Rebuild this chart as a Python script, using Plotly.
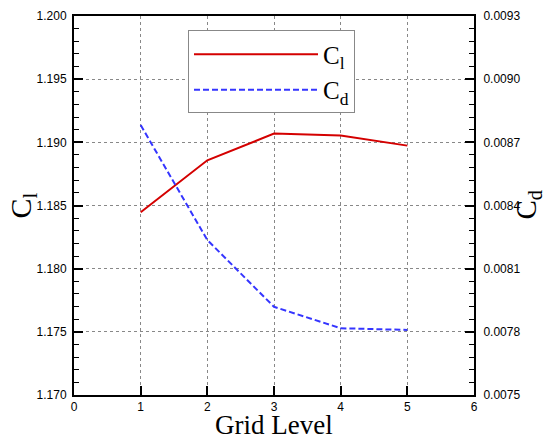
import plotly.graph_objects as go

grid_level = [1, 2, 3, 4, 5]
cl_values = [1.18447, 1.18858, 1.19069, 1.19055, 1.18974]
cd_values = [0.008782, 0.008236, 0.007919, 0.007817, 0.007809]

fig = go.Figure()
fig.add_trace(go.Scatter(x=grid_level, y=cl_values, mode="lines", name="C<sub>l</sub>",
                         line=dict(color="#d40000", width=2)))
fig.add_trace(go.Scatter(x=grid_level, y=cd_values, mode="lines", name="C<sub>d</sub>",
                         yaxis="y2", line=dict(color="#3535ff", width=2, dash="6px,3px")))

tickfont = dict(family="Liberation Sans, Arial", size=12, color="black")
titlefont = dict(family="Liberation Serif, Times New Roman", size=30, color="black")
rtitlefont = dict(family="Liberation Serif, Times New Roman", size=29, color="black")
xtitlefont = dict(family="Liberation Serif, Times New Roman", size=27, color="black")

fig.update_layout(
    width=547, height=440,
    margin=dict(l=74, r=73, t=16, b=45),
    paper_bgcolor="white", plot_bgcolor="white",
    showlegend=True,
    legend=dict(x=0.285, y=0.962, xanchor="left", yanchor="top",
                bgcolor="white", bordercolor="#888888", borderwidth=1,
                font=dict(family="Liberation Serif, Times New Roman", size=25, color="black"),
                itemwidth=124, tracegroupgap=0),
    xaxis=dict(range=[0, 6], dtick=1, tick0=0, ticks="inside", ticklen=9, tickwidth=2,
               tickcolor="black", showline=True, linewidth=2, linecolor="black", mirror=True,
               showgrid=True, gridcolor="#888888", griddash="dot", gridwidth=1,
               zeroline=False, tickfont=tickfont, automargin=False),
    yaxis=dict(range=[1.17, 1.2], dtick=0.005, tick0=1.17, tickformat=".3f",
               ticks="inside", ticklen=9, tickwidth=2, tickcolor="black",
               minor=dict(dtick=0.001, ticks="inside", ticklen=5, tickwidth=1, tickcolor="black", showgrid=False),
               showline=True, linewidth=2, linecolor="black", mirror=True,
               showgrid=True, gridcolor="#888888", griddash="dot", gridwidth=1,
               zeroline=False, tickfont=tickfont, automargin=False, ticklabelstandoff=3),
    yaxis2=dict(range=[0.0075, 0.0093], dtick=0.0003, tick0=0.0075, tickformat=".4f",
                overlaying="y", side="right",
                ticks="inside", ticklen=9, tickwidth=2, tickcolor="black",
                minor=dict(dtick=0.00006, ticks="inside", ticklen=5, tickwidth=1, tickcolor="black", showgrid=False),
                showline=True, linewidth=2, linecolor="black",
                showgrid=False, zeroline=False, tickfont=tickfont, automargin=False,
                ticklabelstandoff=5),
    annotations=[
        dict(text="Grid Level", xref="paper", yref="paper", x=0.5, y=0, yshift=-30,
             xanchor="center", yanchor="middle", showarrow=False, font=xtitlefont),
        dict(text="C<sub>l</sub>", xref="paper", yref="paper", x=0, y=0.5, xshift=-52,
             xanchor="center", yanchor="middle", textangle=-90, showarrow=False, font=titlefont),
        dict(text="C<sub>d</sub>", xref="paper", yref="paper", x=1, y=0.5, xshift=53,
             xanchor="center", yanchor="middle", textangle=-90, showarrow=False, font=rtitlefont,
             borderpad=0),
    ],
)

fig.write_html("out.html")
